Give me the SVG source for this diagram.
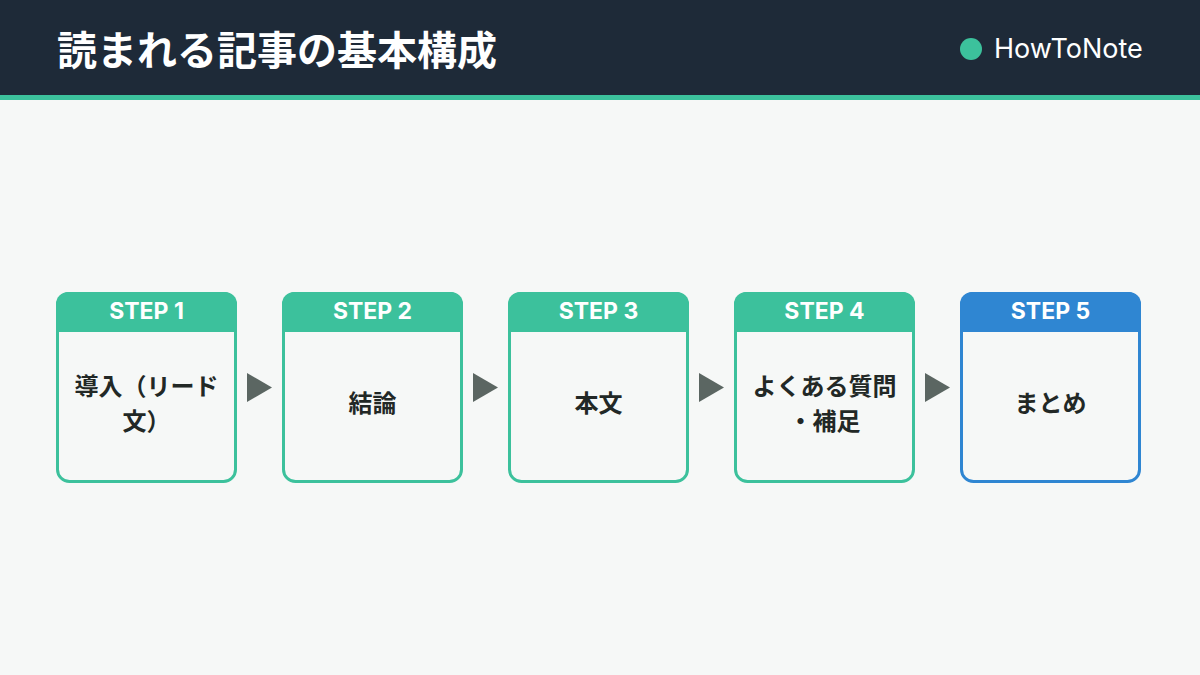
<svg xmlns="http://www.w3.org/2000/svg" width="1200" height="675" viewBox="0 0 1200 675">
<style>
.title{font-family:Inter,"Noto Sans CJK JP",sans-serif;font-weight:700;font-size:40px;fill:#ffffff}
.brand{font-family:Inter,"Noto Sans",sans-serif;font-size:27px;fill:#ffffff}
.card{fill:#f6f8f7;stroke-width:3}
.g{stroke:#3cc19c}
.b{stroke:#2f86d2}
.hg{fill:#3cc19c}
.hb{fill:#2f86d2}
.step{font-family:Inter,"Noto Sans",sans-serif;font-weight:700;font-size:23px;fill:#ffffff;text-anchor:middle}
.lbl{font-family:Inter,"Noto Sans CJK JP",sans-serif;font-weight:700;font-size:24px;fill:#222826;text-anchor:middle}
.arr{fill:#5b6662}
</style>
<rect width="1200" height="675" fill="#f6f8f7"/>
<g id="header">
<rect x="0" y="0" width="1200" height="96" fill="#1e2a38"/>
<rect x="0" y="95" width="1200" height="5" fill="#3cc19c"/>
<text class="title" x="57" y="65">読まれる記事の基本構成</text>
<circle cx="971" cy="49" r="11" fill="#3cc19c"/>
<text class="brand" x="994" y="58">HowToNote</text>
</g>
<g id="connectors">
<polygon class="arr" points="247,373 272,387.5 247,402"/>
<polygon class="arr" points="473,373 498,387.5 473,402"/>
<polygon class="arr" points="699,373 724,387.5 699,402"/>
<polygon class="arr" points="925,373 950,387.5 925,402"/>
</g>
<g id="step1">
<rect class="card g" x="57.5" y="293.5" width="178" height="188" rx="12"/>
<path class="hg" d="M56,332 V304 A12,12 0 0 1 68,292 H225 A12,12 0 0 1 237,304 V332 Z"/>
<text class="step" x="146.5" y="319">STEP 1</text>
<text class="lbl" x="146.5" y="395">導入（リード</text>
<text class="lbl" x="146.5" y="430">文）</text>
</g>
<g id="step2">
<rect class="card g" x="283.5" y="293.5" width="178" height="188" rx="12"/>
<path class="hg" d="M282,332 V304 A12,12 0 0 1 294,292 H451 A12,12 0 0 1 463,304 V332 Z"/>
<text class="step" x="372.5" y="319">STEP 2</text>
<text class="lbl" x="372.5" y="412">結論</text>
</g>
<g id="step3">
<rect class="card g" x="509.5" y="293.5" width="178" height="188" rx="12"/>
<path class="hg" d="M508,332 V304 A12,12 0 0 1 520,292 H677 A12,12 0 0 1 689,304 V332 Z"/>
<text class="step" x="598.5" y="319">STEP 3</text>
<text class="lbl" x="598.5" y="412">本文</text>
</g>
<g id="step4">
<rect class="card g" x="735.5" y="293.5" width="178" height="188" rx="12"/>
<path class="hg" d="M734,332 V304 A12,12 0 0 1 746,292 H903 A12,12 0 0 1 915,304 V332 Z"/>
<text class="step" x="824.5" y="319">STEP 4</text>
<text class="lbl" x="824.5" y="395">よくある質問</text>
<text class="lbl" x="824.5" y="430">・補足</text>
</g>
<g id="step5">
<rect class="card b" x="961.5" y="293.5" width="178" height="188" rx="12"/>
<path class="hb" d="M960,332 V304 A12,12 0 0 1 972,292 H1129 A12,12 0 0 1 1141,304 V332 Z"/>
<text class="step" x="1050.5" y="319">STEP 5</text>
<text class="lbl" x="1050.5" y="412">まとめ</text>
</g>
</svg>
